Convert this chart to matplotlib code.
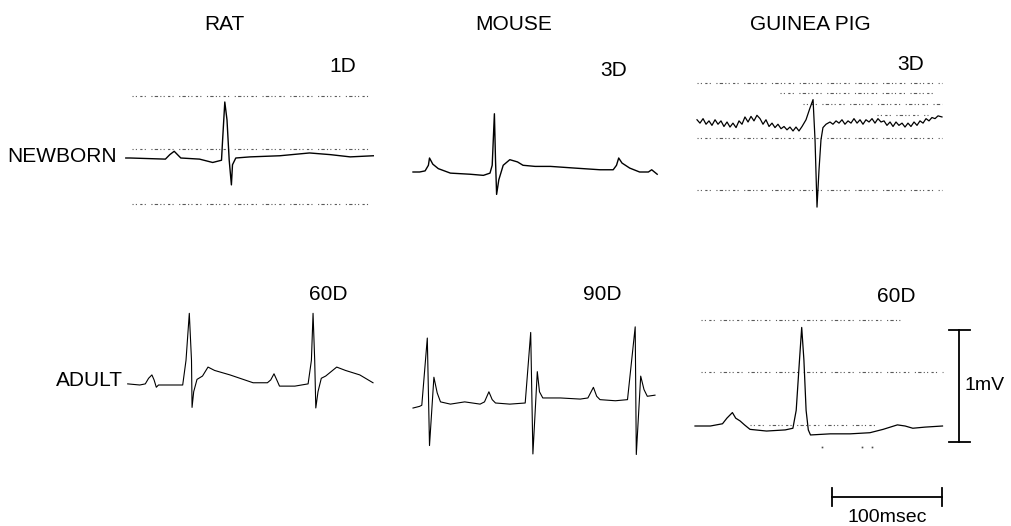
import numpy as np
import matplotlib
matplotlib.use("Agg")
import matplotlib.pyplot as plt

plt.rcParams['font.family'] = ['Liberation Sans', 'DejaVu Sans']

# ECG traces, time in ms, voltage in mV (relative to baseline)
rat_nb_t = [8, 12, 44, 48, 52, 55, 58, 75, 87, 95, 96, 98, 100, 102, 104, 105, 108,
            121, 148, 175, 194, 212, 233]
rat_nb_v = [0, 0, -0.01, 0.03, 0.06, 0.03, 0, -0.01, -0.04, -0.02, 0.16, 0.50, 0.34,
            -0.02, -0.24, -0.06, 0, 0.01, 0.02, 0.045, 0.03, 0.01, 0.02]

mouse_nb_t = [0, 6, 11, 14, 15, 18, 23, 34, 52, 64, 70, 72, 74, 75, 76, 78, 82, 88, 95,
              100, 111, 125, 147, 170, 182, 185, 187, 190, 197, 206, 214, 217, 222]
mouse_nb_v = [0, 0, 0.01, 0.06, 0.125, 0.07, 0.03, -0.01, -0.02, -0.03, -0.01, 0.06,
              0.52, 0.11, -0.20, -0.07, 0.06, 0.11, 0.09, 0.06, 0.05, 0.05, 0.035, 0.02,
              0.02, 0.06, 0.125, 0.08, 0.035, 0, 0, 0.02, -0.02]

gp_nb_t = [0, 2.7, 5.5, 8.2, 10.9, 13.6, 16.4, 19.1, 21.8, 24.5, 27.3, 30, 32.7, 35.5,
           38.2, 40.9, 43.6, 46.4, 49.1, 51.8, 54.5, 57.3, 60, 62.7, 65.5, 68.2, 70.9,
           73.6, 76.4, 79.1, 81.8, 84.5, 87.3, 90, 92.7, 95.5,
           99.1, 102.7, 105.5, 107.3, 109.1, 110.9, 112.7, 114.5, 117.3,
           120.9, 123.6, 126.4, 129.1, 131.8, 134.5, 137.3, 140, 142.7, 145.5, 148.2,
           150.9, 153.6, 156.4, 159.1, 161.8, 164.5, 167.3, 170, 172.7, 175.5, 178.2,
           180.9, 183.6, 186.4, 189.1, 191.8, 194.5, 197.3, 200, 202.7, 205.5, 208.2,
           210.9, 213.6, 216.4, 219.1, 222.7]
gp_nb_v = [0.02, -0.01, 0.03, -0.02, 0.01, -0.03, 0.02, -0.02, 0.01, -0.04, 0, -0.045,
           -0.01, -0.05, 0.01, -0.02, 0.045, 0, 0.05, 0.01, 0.06, 0.03, -0.02, 0.02,
           -0.04, -0.01, -0.05, -0.02, -0.06, -0.04, -0.07, -0.045, -0.08, -0.045, -0.08,
           -0.04,
           0.02, 0.125, 0.20, -0.16, -0.76, -0.43, -0.16, -0.05, -0.02,
           0, -0.02, 0.01, -0.01, 0.02, -0.02, 0.01, -0.01, 0.03, -0.01, 0.02, -0.02,
           0.02, 0, 0.03, -0.01, 0.03, 0, 0.01, -0.03, 0, -0.04, 0, -0.03, -0.01,
           -0.045, -0.01, -0.04, 0, -0.03, 0.01, -0.01, 0.03, 0.01, 0.04, 0.03, 0.055,
           0.045]

rat_ad_t = [-3, 8, 13, 16, 19, 21, 23, 25, 35, 47, 50, 53, 55, 55.5, 57, 60, 65, 70,
            76, 90, 111, 124, 127, 130, 133, 135, 149, 161, 164, 165.5, 167, 168, 170,
            173, 177, 187, 195, 208, 220]
rat_ad_v = [0.01, 0, 0.01, 0.06, 0.09, 0.045, -0.02, 0, 0, 0, 0.22, 0.64, 0.22, -0.20,
            -0.06, 0.05, 0.08, 0.16, 0.13, 0.09, 0.02, 0.02, 0.045, 0.10, 0.035, -0.01,
            -0.01, 0.01, 0.22, 0.64, 0.22, -0.205, -0.06, 0.06, 0.08, 0.16, 0.13, 0.09,
            0.02]

mouse_ad_t = [0, 6, 8, 13, 15, 19, 22, 25, 34, 47, 61, 65, 69, 72, 75, 88, 102, 107,
              109, 113, 115, 118, 134, 152, 159, 164, 167, 170, 184, 195, 202, 203, 207,
              210, 213, 220]
mouse_ad_v = [-0.045, -0.03, -0.02, 0.58, -0.38, 0.23, 0.09, 0.01, -0.01, 0.01, -0.01,
              0.01, 0.10, 0.03, 0, -0.01, 0, 0.63, -0.455, 0.28, 0.10, 0.045, 0.045,
              0.035, 0.045, 0.14, 0.06, 0.03, 0.02, 0.03, 0.68, -0.46, 0.24, 0.12, 0.06,
              0.07]

gp_ad_t = [0, 14, 25, 29, 34, 37, 41, 45, 50, 65, 82, 89, 92, 95, 97, 99, 101, 103,
           105, 123, 141, 159, 171, 184, 191, 198, 209, 225]
gp_ad_v = [0, 0, 0.02, 0.07, 0.12, 0.07, 0.045, 0.01, -0.03, -0.045, -0.035, -0.02,
           0.14, 0.59, 0.88, 0.59, 0.14, -0.035, -0.08, -0.07, -0.07, -0.06, -0.03,
           0.01, 0, -0.02, -0.01, 0]

# oscilloscope graticule rows: level (mV), start (ms), end (ms)
rat_nb_grid = [(0.55, 14, 233), (0.08, 14, 233), (-0.41, 14, 233)]
gp_nb_grid = [(0.35, 0, 223), (0.26, 75, 215), (0.16, 96, 223), (0.06, 164, 210),
              (-0.14, 0, 223), (-0.61, 0, 223)]
gp_ad_grid = [(0.95, 5, 189), (0.48, 5, 225), (0.01, 50, 166)]

species = ['RAT', 'MOUSE', 'GUINEA PIG']
ages = ['NEWBORN', 'ADULT']
age_tags = [['1D', '3D', '3D'], ['60D', '90D', '60D']]

scale_ms = 100
scale_mv = 1

W, H = 1011, 526
PX_MS = 1.1
PX_MV = 112

fig = plt.figure(figsize=(W / 100, H / 100), dpi=100)
fig.patch.set_facecolor('white')


def trace_axes(x0, y0, left=-15, right=300, low=-1.0, high=1.0):
    # axes whose origin (0 ms, 0 mV) sits at pixel (x0, y0)
    lx = x0 + left * PX_MS
    by = y0 - low * PX_MV
    ax = fig.add_axes([lx / W, (H - by) / H, (right - left) * PX_MS / W,
                       (high - low) * PX_MV / H])
    ax.set_xlim(left, right)
    ax.set_ylim(low, high)
    ax.axis('off')
    return ax


def graticule(ax, rows):
    for lvl, a, b in rows:
        ax.plot([a, b], [lvl, lvl], color='0.35', lw=0.8,
                linestyle=(0, (1, 2, 1, 3, 2, 2, 1, 5, 1, 2, 3, 2)))


ax = trace_axes(117, 158)
graticule(ax, rat_nb_grid)
ax.plot(rat_nb_t, rat_nb_v, color='black', lw=1.0)

ax = trace_axes(413, 172)
ax.plot(mouse_nb_t, mouse_nb_v, color='black', lw=1.0)

ax = trace_axes(697, 122)
graticule(ax, gp_nb_grid)
ax.plot(gp_nb_t, gp_nb_v, color='black', lw=0.9)

ax = trace_axes(131, 385)
ax.plot(rat_ad_t, rat_ad_v, color='black', lw=0.8)

ax = trace_axes(413, 403)
ax.plot(mouse_ad_t, mouse_ad_v, color='black', lw=0.8)

ax = trace_axes(695, 426)
graticule(ax, gp_ad_grid)
ax.plot([115, 152, 161], [-0.19, -0.19, -0.19], 's', color='0.3', ms=1.2, mew=0)
ax.plot(gp_ad_t, gp_ad_v, color='black', lw=0.9)

# calibration bars: 1 mV and 100 msec
vx, vb = 240, -0.14
ax.plot([vx, vx], [vb, vb + scale_mv], color='black', lw=1.3)
ax.plot([vx - 9, vx + 10], [vb, vb], color='black', lw=1.3)
ax.plot([vx - 9, vx + 10], [vb + scale_mv, vb + scale_mv], color='black', lw=1.3)
ax.text(vx + 5, vb + scale_mv / 2, '1mV', fontsize=14, va='center', ha='left')

hx, hy = 124.5, -0.63
ax.plot([hx, hx + scale_ms], [hy, hy], color='black', lw=1.3)
ax.plot([hx, hx], [hy - 0.08, hy + 0.08], color='black', lw=1.3)
ax.plot([hx + scale_ms, hx + scale_ms], [hy - 0.08, hy + 0.08], color='black', lw=1.3)
ax.text(hx + scale_ms / 2, hy - 0.11, '100msec', fontsize=14, va='top', ha='center')


def ftext(x, y, s, **kw):
    fig.text(x / W, 1 - y / H, s, fontsize=15, va='center', **kw)


for name, xc in zip(species, [224, 514, 810]):
    ftext(xc, 24, name, ha='center')

ftext(117, 157, ages[0], ha='right')
ftext(123, 381, ages[1], ha='right')

tag_pos = [[(343, 66), (614, 71), (911, 64)], [(328, 294), (602, 294), (896, 297)]]
for r in range(2):
    for c in range(3):
        x, y = tag_pos[r][c]
        ftext(x, y, age_tags[r][c], ha='center')

fig.savefig('out.png', dpi=100, facecolor='white')
